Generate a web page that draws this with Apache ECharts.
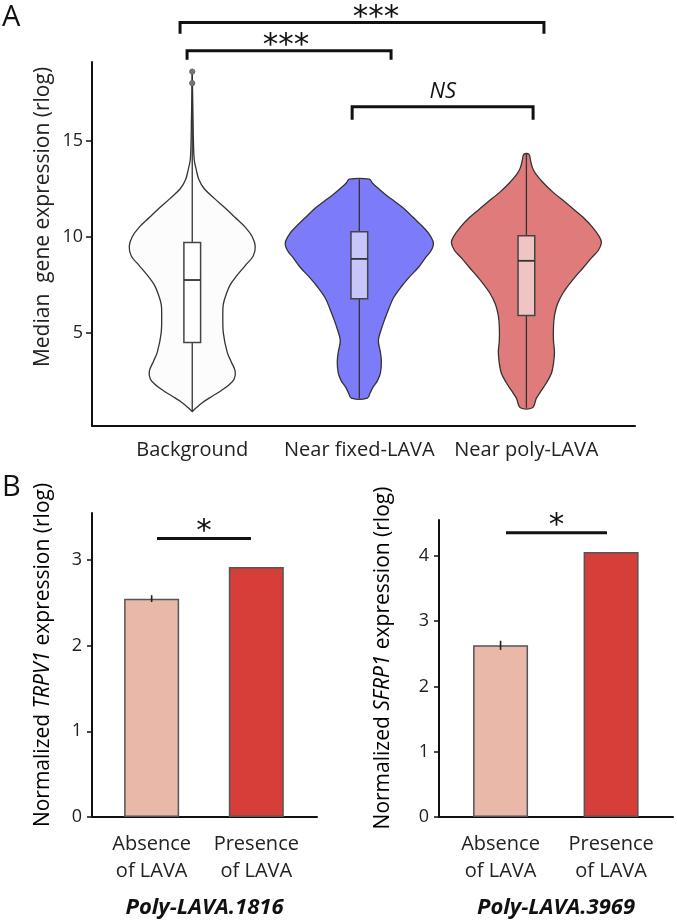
<!DOCTYPE html>
<html><head><meta charset="utf-8">
<script src="https://cdn.jsdelivr.net/npm/echarts@6/dist/echarts.min.js"></script>
<style>html,body{margin:0;padding:0;background:#fff}#c{width:677px;height:920px}</style>
</head><body><div id="c"></div><script>
// ---------- Panel A data ----------
const groups = ['Background', 'Near fixed-LAVA', 'Near poly-LAVA'];
const groupPos = [1, 2, 3];
const yTicksA = [5, 10, 15];
// violin profiles: y value and half-width (x-axis units)
const bgY = [18.6, 17, 16, 15, 14, 13.5, 13, 12.5, 12, 11.5, 11, 10.5, 10, 9.5, 9, 8.5, 8, 7.5, 7, 6.5, 6, 5, 4, 3.5, 3, 2.6, 2.3, 2, 1.7, 1.4, 1.1, 0.9];
const bgW = [0, 0.003, 0.005, 0.007, 0.012, 0.024, 0.039, 0.072, 0.132, 0.197, 0.257, 0.317, 0.359, 0.377, 0.365, 0.317, 0.269, 0.227, 0.203, 0.186, 0.183, 0.186, 0.209, 0.233, 0.257, 0.251, 0.221, 0.174, 0.12, 0.066, 0.024, 0];
const fixY = [13.0, 12.8, 12.6, 12.2, 11.9, 11.5, 11.0, 10.6, 10.2, 9.7, 9.3, 8.9, 8.4, 7.9, 7.4, 6.8, 6.2, 5.8, 5.2, 4.6, 4.0, 3.5, 2.9, 2.5, 2.2, 1.9, 1.6];
const fixW = [0.06, 0.078, 0.102, 0.156, 0.203, 0.263, 0.323, 0.371, 0.413, 0.443, 0.431, 0.395, 0.353, 0.299, 0.251, 0.203, 0.174, 0.156, 0.132, 0.114, 0.126, 0.132, 0.126, 0.108, 0.084, 0.066, 0.048];
const polyY = [14.3, 14.0, 13.6, 13.3, 12.8, 12.3, 11.8, 11.4, 11.0, 10.5, 10.0, 9.7, 9.3, 8.9, 8.4, 7.8, 7.1, 6.5, 5.9, 5.3, 4.6, 4.0, 3.4, 2.9, 2.4, 2.0, 1.6, 1.1];
const polyW = [0.015, 0.024, 0.036, 0.054, 0.102, 0.162, 0.233, 0.287, 0.341, 0.395, 0.437, 0.449, 0.431, 0.389, 0.341, 0.281, 0.221, 0.186, 0.168, 0.162, 0.162, 0.168, 0.162, 0.15, 0.12, 0.09, 0.06, 0.036];
// box stats: [low, q1, median, q3, high]
const boxStats = [
  [0.9, 4.5, 7.75, 9.7, 18.6],
  [1.6, 6.77, 8.85, 10.26, 13.0],
  [1.1, 5.9, 8.75, 10.05, 14.3]
];
const bgOutliers = [18.6, 18.0];
// significance brackets: [x1, x2, yLine, yDrop, textX, label]
const bracketsA = [
  [0.927, 3.105, 21.15, 20.57, 2.10, '***'],
  [0.969, 2.19, 19.69, 19.22, 1.561, '***'],
  [1.957, 3.04, 16.77, 16.09, 2.50, 'NS']
];

// ---------- Panel B data ----------
const barCats = ['Absence\nof LAVA', 'Presence\nof LAVA'];
const barPos = [1, 2];
const trpv1 = [2.55, 2.92];
const trpv1Err = [0.04, 0];
const sfrp1 = [2.63, 4.06];
const sfrp1Err = [0.07, 0];
const yTicksB1 = [0, 1, 2, 3];
const yTicksB2 = [0, 1, 2, 3, 4];
const sigB1 = [1.051, 1.949, 3.252];
const sigB2 = [1.049, 1.963, 4.356];

const violins = [
  {y: bgY, w: bgW, fill: '#fcfcfc', box: '#ffffff'},
  {y: fixY, w: fixW, fill: '#7c7cfb', box: '#c6c6fc'},
  {y: polyY, w: polyW, fill: '#e07b7b', box: '#f1c4c4'}
];
const FONT = 'Open Sans';
const STAR_FONT = '31px "DejaVu Sans"';
const boxHalf = 0.05;

function violinItem(params, api) {
  const i = params.dataIndex;
  const v = violins[i];
  const cx = groupPos[i];
  const left = [], right = [];
  for (let k = 0; k < v.y.length; k++) {
    left.push(api.coord([cx - v.w[k], v.y[k]]));
    right.push(api.coord([cx + v.w[k], v.y[k]]));
  }
  const pts = left.concat(right.reverse());
  const s = boxStats[i];
  const lo = api.coord([cx, s[0]]), hi = api.coord([cx, s[4]]);
  const b1 = api.coord([cx - boxHalf, s[3]]), b2 = api.coord([cx + boxHalf, s[1]]);
  const m1 = api.coord([cx - boxHalf, s[2]]), m2 = api.coord([cx + boxHalf, s[2]]);
  const children = [
    {type: 'polygon', shape: {points: pts, smooth: 0.35}, style: {fill: v.fill, stroke: '#333', lineWidth: 1.3}},
    {type: 'line', shape: {x1: lo[0], y1: lo[1], x2: hi[0], y2: hi[1]}, style: {stroke: '#333', lineWidth: 1.3}},
    {type: 'rect', shape: {x: b1[0], y: b1[1], width: b2[0] - b1[0], height: b2[1] - b1[1]}, style: {fill: v.box, stroke: '#444', lineWidth: 1.5}},
    {type: 'line', shape: {x1: m1[0], y1: m1[1], x2: m2[0], y2: m2[1]}, style: {stroke: '#333', lineWidth: 1.8}}
  ];
  if (i === 0) {
    bgOutliers.forEach(o => {
      const p = api.coord([cx, o]);
      children.push({type: 'circle', shape: {cx: p[0], cy: p[1], r: 2.6}, style: {fill: '#777', stroke: '#666'}});
    });
  }
  return {type: 'group', children};
}

function bracketItem(params, api) {
  const d = bracketsA[params.dataIndex];
  const a = api.coord([d[0], d[2]]), b = api.coord([d[1], d[2]]);
  const ad = api.coord([d[0], d[3]]), bd = api.coord([d[1], d[3]]);
  const t = api.coord([d[4], d[2]]);
  const isNS = d[5] === 'NS';
  return {type: 'group', children: [
    {type: 'polyline', shape: {points: [ad, a, b, bd]}, style: {stroke: '#111', lineWidth: 3, fill: null}},
    {type: 'text', x: t[0], y: t[1] - (isNS ? 15 : 5), style: {
      text: d[5], x: 0, y: 0, align: 'center', verticalAlign: 'middle',
      font: isNS ? ('italic 22px "' + FONT + '"') : STAR_FONT, fill: '#111'}}
  ]};
}

function errItem(errArr) {
  return function (params, api) {
    const i = params.dataIndex;
    const x = api.value(0), y = api.value(1), e = errArr[i];
    if (!e) return null;
    const p1 = api.coord([x, y - e]), p2 = api.coord([x, y + e]);
    return {type: 'line', shape: {x1: p1[0], y1: p1[1], x2: p2[0], y2: p2[1]}, style: {stroke: '#222', lineWidth: 1.6}};
  };
}

function sigItem(sig) {
  return function (params, api) {
    const a = api.coord([sig[0], sig[2]]), b = api.coord([sig[1], sig[2]]);
    const mx = (a[0] + b[0]) / 2;
    return {type: 'group', children: [
      {type: 'line', shape: {x1: a[0], y1: a[1], x2: b[0], y2: b[1]}, style: {stroke: '#111', lineWidth: 3}},
      {type: 'text', x: mx, y: a[1] - 7, style: {text: '*', x: 0, y: 0, align: 'center', verticalAlign: 'middle', font: STAR_FONT, fill: '#111'}}
    ]};
  };
}

const axisLineStyle = {color: '#111', width: 2};
const tickLabel = {color: '#222', fontSize: 18, fontFamily: FONT};

function barData(vals) {
  const colors = ['#e9b8a9', '#d63e3a'];
  return vals.map((v, i) => ({value: [barPos[i], v], itemStyle: {color: colors[i], borderColor: '#555', borderWidth: 1.5}}));
}

const chart = echarts.init(document.getElementById('c'), null, {renderer: 'canvas'});
chart.setOption({
  animation: false,
  backgroundColor: '#fff',
  grid: [
    {left: 92, top: 62, width: 543, height: 364},
    {left: 92, top: 513, width: 225, height: 310},
    {left: 439, top: 520, width: 234, height: 305}
  ],
  xAxis: [
    {gridIndex: 0, type: 'value', min: 0.4, max: 3.65,
      axisLine: {show: true, onZero: false, lineStyle: axisLineStyle}, axisTick: {show: false}, splitLine: {show: false},
      axisLabel: {customValues: groupPos, formatter: v => groups[groupPos.indexOf(v)], color: '#222', fontSize: 20, fontFamily: FONT, margin: 14}},
    {gridIndex: 1, type: 'value', min: 0.43, max: 2.58,
      axisLine: {show: true, onZero: false, lineStyle: axisLineStyle}, axisTick: {show: false}, splitLine: {show: false},
      axisLabel: {customValues: barPos, formatter: v => barCats[barPos.indexOf(v)], color: '#222', fontSize: 20, lineHeight: 27, fontFamily: FONT, margin: 14},
      name: 'Poly-LAVA.1816', nameLocation: 'middle', nameGap: 80,
      nameTextStyle: {fontStyle: 'italic', fontWeight: 'bold', fontSize: 22, color: '#111', fontFamily: FONT}},
    {gridIndex: 2, type: 'value', min: 0.443, max: 2.56,
      axisLine: {show: true, onZero: false, lineStyle: axisLineStyle}, axisTick: {show: false}, splitLine: {show: false},
      axisLabel: {customValues: barPos, formatter: v => barCats[barPos.indexOf(v)], color: '#222', fontSize: 20, lineHeight: 27, fontFamily: FONT, margin: 14},
      name: 'Poly-LAVA.3969', nameLocation: 'middle', nameGap: 80,
      nameTextStyle: {fontStyle: 'italic', fontWeight: 'bold', fontSize: 22, color: '#111', fontFamily: FONT}}
  ],
  yAxis: [
    {gridIndex: 0, type: 'value', min: 0.15, max: 19.1,
      axisLine: {show: true, onZero: false, lineStyle: axisLineStyle},
      axisTick: {show: true, customValues: yTicksA, length: 6, lineStyle: {color: '#111', width: 1.5}},
      axisLabel: Object.assign({customValues: yTicksA, margin: 9}, tickLabel), splitLine: {show: false}},
    {gridIndex: 1, type: 'value', min: 0, max: 3.55,
      axisLine: {show: true, onZero: false, lineStyle: axisLineStyle},
      axisTick: {show: true, customValues: yTicksB1, length: 5, lineStyle: {color: '#111', width: 1.5}},
      axisLabel: Object.assign({customValues: yTicksB1, margin: 10}, tickLabel), splitLine: {show: false}},
    {gridIndex: 2, type: 'value', min: 0, max: 4.55,
      axisLine: {show: true, onZero: false, lineStyle: axisLineStyle},
      axisTick: {show: true, customValues: yTicksB2, length: 5, lineStyle: {color: '#111', width: 1.5}},
      axisLabel: Object.assign({customValues: yTicksB2, margin: 10}, tickLabel), splitLine: {show: false}}
  ],
  series: [
    {type: 'custom', xAxisIndex: 0, yAxisIndex: 0, renderItem: violinItem,
      data: groupPos.map((p, i) => [p, boxStats[i][2]]), z: 2},
    {type: 'custom', xAxisIndex: 0, yAxisIndex: 0, renderItem: bracketItem, clip: false,
      data: bracketsA.map(b => [b[0], b[2]]), z: 3},
    {type: 'bar', xAxisIndex: 1, yAxisIndex: 1, barWidth: 55, data: barData(trpv1)},
    {type: 'custom', xAxisIndex: 1, yAxisIndex: 1, renderItem: errItem(trpv1Err), z: 4,
      data: trpv1.map((v, i) => [barPos[i], v])},
    {type: 'custom', xAxisIndex: 1, yAxisIndex: 1, renderItem: sigItem(sigB1), clip: false, z: 4,
      data: [[sigB1[0], sigB1[2]]]},
    {type: 'bar', xAxisIndex: 2, yAxisIndex: 2, barWidth: 55, data: barData(sfrp1)},
    {type: 'custom', xAxisIndex: 2, yAxisIndex: 2, renderItem: errItem(sfrp1Err), z: 4,
      data: sfrp1.map((v, i) => [barPos[i], v])},
    {type: 'custom', xAxisIndex: 2, yAxisIndex: 2, renderItem: sigItem(sigB2), clip: false, z: 4,
      data: [[sigB2[0], sigB2[2]]]}
  ],
  graphic: [
    {type: 'text', left: 2, top: 3, style: {text: 'A', font: '29px "' + FONT + '"', fill: '#111'}},
    {type: 'text', left: 2, top: 473, style: {text: 'B', font: '29px "' + FONT + '"', fill: '#111'}},
    {type: 'text', x: 43, y: 217, rotation: Math.PI / 2, style: {text: 'Median  gene expression (rlog)', x: 0, y: 0, align: 'center', verticalAlign: 'middle', font: '21px "' + FONT + '"', fill: '#222'}},
    {type: 'text', x: 43, y: 655, rotation: Math.PI / 2, style: {
      text: '{n|Normalized }{i|TRPV1}{n| expression (rlog)}', x: 0, y: 0, align: 'center', verticalAlign: 'middle',
      rich: {n: {fontSize: 21, fontFamily: FONT, color: '#222'}, i: {fontSize: 21, fontFamily: FONT, fontStyle: 'italic', color: '#222'}}}},
    {type: 'text', x: 383, y: 658, rotation: Math.PI / 2, style: {
      text: '{n|Normalized }{i|SFRP1}{n| expression (rlog)}', x: 0, y: 0, align: 'center', verticalAlign: 'middle',
      rich: {n: {fontSize: 21, fontFamily: FONT, color: '#222'}, i: {fontSize: 21, fontFamily: FONT, fontStyle: 'italic', color: '#222'}}}}
  ]
});
</script></body></html>
